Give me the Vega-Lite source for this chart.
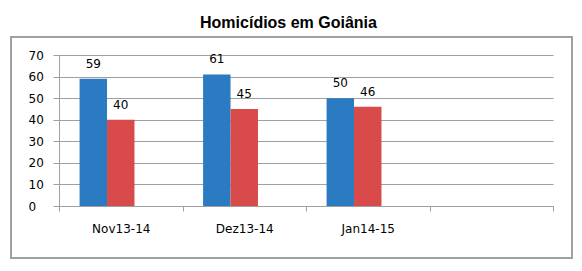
{
  "$schema": "https://vega.github.io/schema/vega-lite/v6.json",
  "autosize": "none",
  "width": 561,
  "height": 221,
  "padding": {"left": 11, "top": 37, "right": 10, "bottom": 13},
  "background": "white",
  "title": {
    "text": "Homicídios em Goiânia",
    "font": "Liberation Sans",
    "fontSize": 16,
    "fontWeight": "bold",
    "color": "#000000",
    "anchor": "middle",
    "baseline": "alphabetic",
    "offset": -7,
    "dx": -3
  },
  "data": {
    "values": [
      {"periodo": "Nov13-14", "serie": "A", "valor": 59},
      {"periodo": "Nov13-14", "serie": "B", "valor": 40},
      {"periodo": "Dez13-14", "serie": "A", "valor": 61},
      {"periodo": "Dez13-14", "serie": "B", "valor": 45},
      {"periodo": "Jan14-15", "serie": "A", "valor": 50},
      {"periodo": "Jan14-15", "serie": "B", "valor": 46}
    ]
  },
  "encoding": {
    "x": {
      "field": "periodo",
      "type": "nominal",
      "sort": null,
      "scale": {"domain": ["Nov13-14", "Dez13-14", "Jan14-15", ""], "range": [48, 542], "paddingInner": 0, "paddingOuter": 0},
      "axis": {
        "title": null,
        "offset": -52,
        "labelAngle": 0,
        "tickBand": "extent",
        "tickSize": 5,
        "labelPadding": 12,
        "domainColor": "#a0a0a0",
        "tickColor": "#a0a0a0",
        "grid": false
      }
    },
    "xOffset": {
      "field": "serie",
      "type": "nominal",
      "scale": {"domain": ["A", "B", "C"], "paddingInner": 0, "paddingOuter": 0.75}
    },
    "y": {
      "field": "valor",
      "type": "quantitative",
      "scale": {"domain": [0, 70], "range": [169, 18], "nice": false, "zero": true},
      "axis": {
        "title": null,
        "offset": -48,
        "values": [0, 10, 20, 30, 40, 50, 60, 70],
        "tickSize": 6,
        "labelAlign": "left",
        "labelPadding": 25,
        "grid": true,
        "gridColor": "#a0a0a0",
        "domainColor": "#a0a0a0",
        "tickColor": "#a0a0a0"
      }
    }
  },
  "layer": [
    {
      "mark": {"type": "bar"},
      "encoding": {
        "color": {
          "field": "serie",
          "type": "nominal",
          "scale": {"domain": ["A", "B"], "range": ["#2a7bc2", "#d94a4a"]},
          "legend": null
        }
      }
    },
    {
      "mark": {"type": "text", "baseline": "alphabetic", "dy": -11, "font": "DejaVu Sans", "fontSize": 12, "color": "#000000"},
      "encoding": {
        "text": {"field": "valor", "type": "quantitative"}
      }
    }
  ],
  "config": {
    "view": {"stroke": "#a0a0a0", "strokeWidth": 2},
    "axis": {
      "labelFont": "DejaVu Sans",
      "labelFontSize": 12,
      "labelColor": "#000000",
      "domainWidth": 1,
      "tickWidth": 1,
      "gridWidth": 1
    }
  }
}
